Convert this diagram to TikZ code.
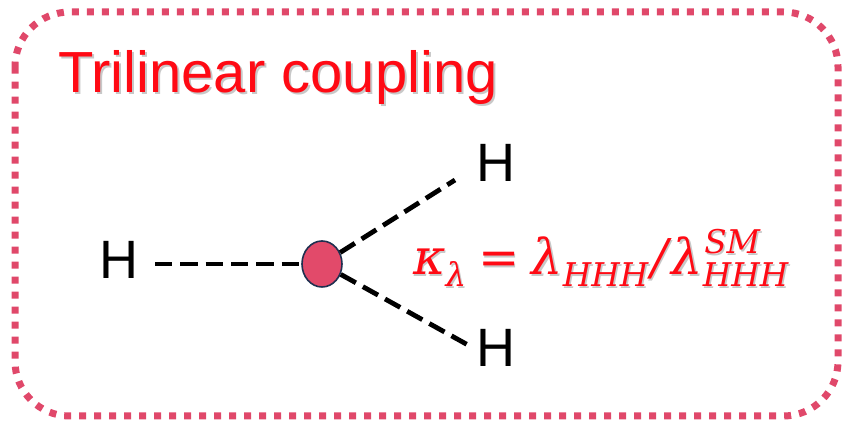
\documentclass[tikz,border=0pt]{standalone}
\usepackage{fontspec}
\setmainfont{Liberation Sans}
\newfontfamily\formfont{DejaVu Serif}[UprightFont=*-Italic]
\usetikzlibrary{shapes.geometric}
\definecolor{borderpink}{HTML}{E0486A}
\definecolor{vtxfill}{HTML}{E24A6A}
\definecolor{vtxline}{HTML}{1F3050}
\definecolor{titlered}{HTML}{FF0A14}
\definecolor{shadowgray}{HTML}{C8C8C8}
\newcommand\fsub[1]{\raisebox{-9pt}{\fontsize{24.5}{24.5}\selectfont #1}}
\newcommand\fsubsup[2]{\rlap{\hspace{1pt}\raisebox{16pt}{\fontsize{24.5}{24.5}\selectfont #2}}\raisebox{-9pt}{\fontsize{24.5}{24.5}\selectfont #1}}
\newcommand\formtext{\formfont κ\fsub{λ}\hspace{9pt}{\fontspec{DejaVu Serif}=}\hspace{9pt}λ\fsub{HHH}\hspace{2pt}/\hspace{3pt}λ\fsubsup{HHH}{SM}}
\begin{document}
\begin{tikzpicture}[x=0.75pt,y=-0.75pt,
  frame/.style={draw=borderpink, line width=5.25pt, dash pattern=on 5.25pt off 6pt, rounded corners=41pt},
  hline/.style={draw=black, line width=3.6pt, dash pattern=on 13pt off 6pt},
  hlabel/.style={font=\fontsize{40.5}{40.5}\selectfont, inner sep=0pt, anchor=base west},
  titletext/.style={font=\fontsize{43.5}{43.5}\selectfont, inner sep=0pt, anchor=base west},
  formula/.style={font=\fontsize{37}{37}\selectfont, inner sep=0pt, anchor=base west},
  vertex/.style={ellipse, fill=vtxfill, draw=vtxline, line width=1.2pt, minimum width=30pt, minimum height=34.5pt, inner sep=0pt}]
\useasboundingbox (0,0) rectangle (851,427);
\draw[frame] (15,12) rectangle (838,416);
% title with shadow
\node[titletext, text=shadowgray] (titleshadow) at (60,95) {Trilinear coupling};
\node[titletext, text=titlered] (title) at (58,93) {Trilinear coupling};
% labels
\node[hlabel] (H1) at (99,279) {H};
\node[hlabel] (H2) at (476,182) {H};
\node[hlabel] (H3) at (476,367) {H};
% vertex
\node[vertex] (v) at (322,264) {};
\coordinate (c1) at (155,264);
\coordinate (c2) at (455,180);
\coordinate (c3) at (468,345);
\draw[hline] (c1) -- (v);
\draw[hline] (v) -- (c2);
\draw[hline] (v) -- (c3);
% formula with shadow
\node[formula, text=shadowgray] (fshadow) at (414.5,276.5) {\formtext};
\node[formula, text=titlered] (f) at (413,275) {\formtext};
\end{tikzpicture}
\end{document}
